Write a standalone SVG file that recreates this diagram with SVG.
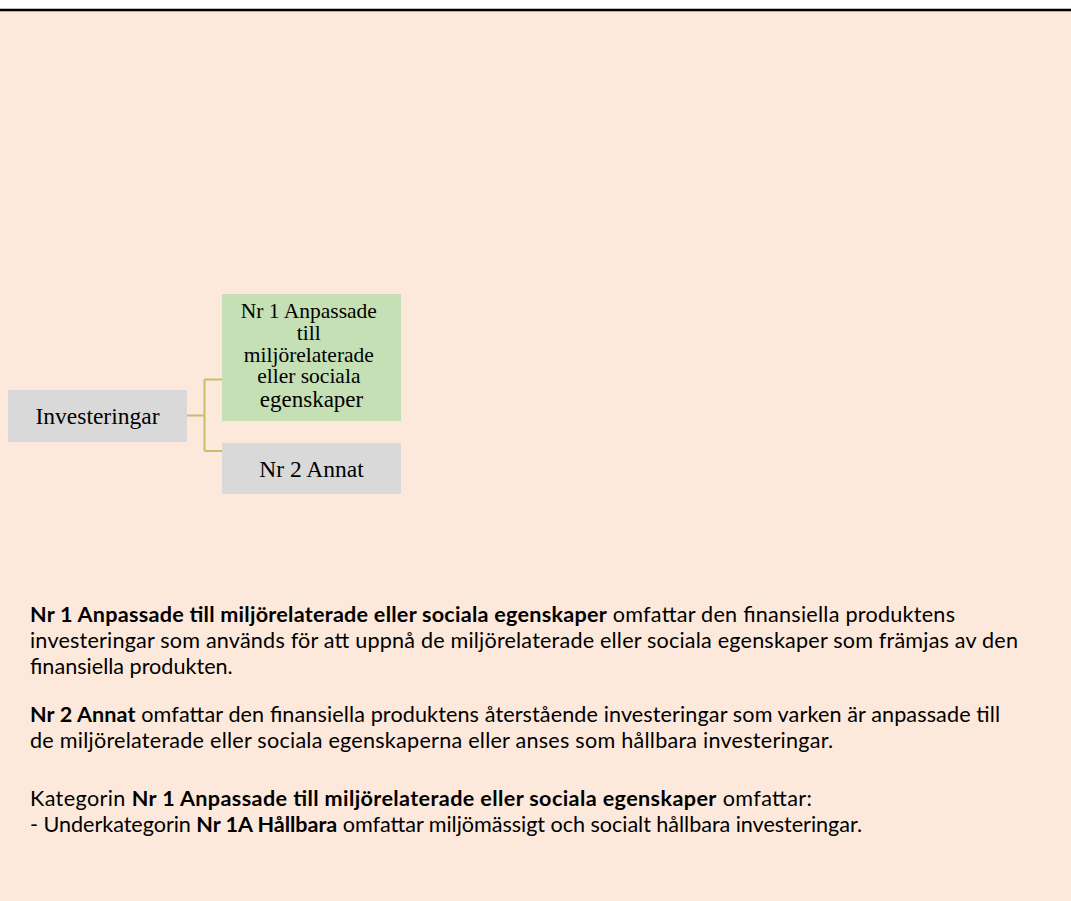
<svg xmlns="http://www.w3.org/2000/svg" width="1071" height="901" viewBox="0 0 1071 901">
<style>
.bg{fill:#FDE9DB}
.gray{fill:#D9D9D9}
.green{fill:#C5E0B4}
.node{font-family:"Liberation Serif","Times New Roman",serif;fill:#000;text-anchor:middle}
.conn{fill:none;stroke:#C9BC6C;stroke-width:2}
.body{font-family:Lato,"Liberation Sans",sans-serif;font-size:21.6px;fill:#000}
.b{font-weight:bold}
</style>
<rect x="0" y="0" width="1071" height="901" fill="#FFFFFF"/>
<rect class="bg" x="0" y="11" width="1071" height="890"/>
<line x1="0" y1="10" x2="1071" y2="10" stroke="#000" stroke-width="2.5"/>
<g id="connectors">
<path class="conn" d="M187,415.5 H204.5 M204.5,379.5 V451 M204.5,379.5 H222 M204.5,451 H222"/>
</g>
<g id="node-investeringar">
<rect class="gray" x="8" y="390" width="179" height="52"/>
<text class="node" x="97.5" y="424" font-size="23.5">Investeringar</text>
</g>
<g id="node-nr1">
<rect class="green" x="222" y="294" width="179" height="127"/>
<text class="node" font-size="21.5">
<tspan x="311.5" y="318">Nr 1 Anpassade</tspan>
<tspan x="311.5" y="340">till</tspan>
<tspan x="311.5" y="361.5">miljörelaterade</tspan>
<tspan x="311.5" y="383">eller sociala</tspan>
<tspan x="311.5" y="407" font-size="23">egenskaper</tspan>
</text>
</g>
<g id="node-nr2">
<rect class="gray" x="222" y="443" width="179" height="51"/>
<text class="node" x="311.5" y="477" font-size="23.5">Nr 2 Annat</text>
</g>
<g id="text">
<text class="body" x="30" y="622" textLength="925"><tspan class="b">Nr 1 Anpassade till miljörelaterade eller sociala egenskaper</tspan> omfattar den finansiella produktens</text>
<text class="body" x="30" y="648" textLength="988">investeringar som används för att uppnå de miljörelaterade eller sociala egenskaper som främjas av den</text>
<text class="body" x="30" y="674">finansiella produkten.</text>
<text class="body" x="30" y="722" textLength="970"><tspan class="b">Nr 2 Annat</tspan> omfattar den finansiella produktens återstående investeringar som varken är anpassade till</text>
<text class="body" x="30" y="748" textLength="803">de miljörelaterade eller sociala egenskaperna eller anses som hållbara investeringar.</text>
<text class="body" x="30" y="806" textLength="782">Kategorin <tspan class="b">Nr 1 Anpassade till miljörelaterade eller sociala egenskaper</tspan> omfattar:</text>
<text class="body" x="30" y="832" textLength="832">- Underkategorin <tspan class="b">Nr 1A Hållbara</tspan> omfattar miljömässigt och socialt hållbara investeringar.</text>
</g>
</svg>
